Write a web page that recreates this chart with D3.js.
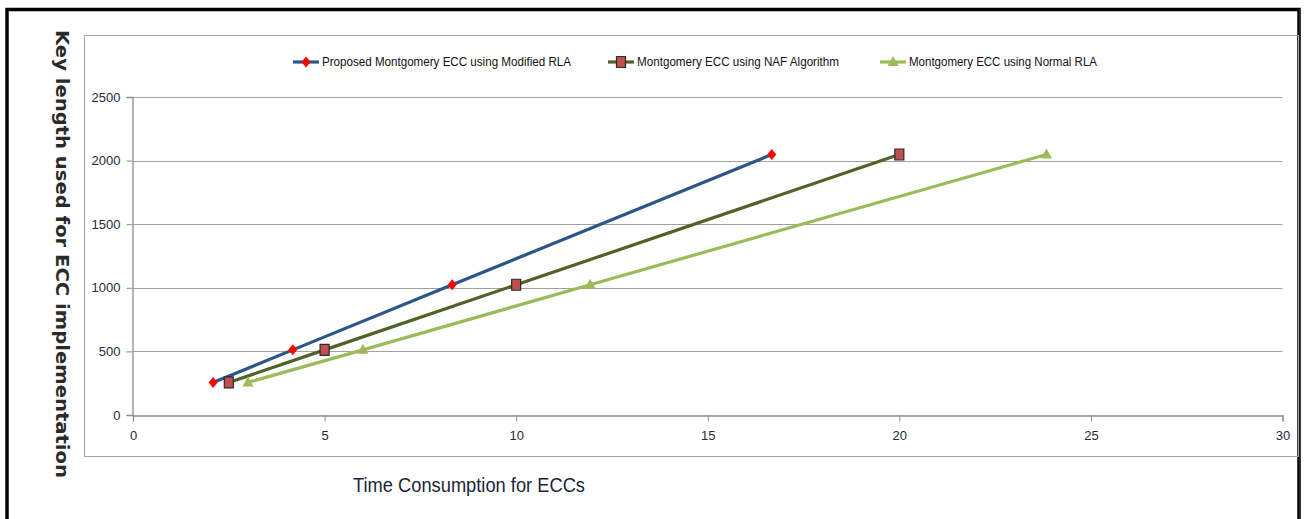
<!DOCTYPE html>
<html lang="en">
<head>
    <meta charset="UTF-8">
    <title>ECC key length vs time</title>
    <script src="https://d3js.org/d3.v7.min.js"></script>
    <style>
        body { margin: 0; background: #fff; }
        .tick text { font-family: "Liberation Sans Narrow", "Liberation Sans", sans-serif; font-size: 13px; fill: #1f2b3a; }
    </style>
</head>
<body>
    <div id="chart"></div>
    <script>

        const keyLengths = [256, 512, 1024, 2048];
        const proposedTimes = [2.09, 4.17, 8.33, 16.67];
        const nafTimes = [2.5, 5, 10, 20];
        const normalTimes = [3, 6, 11.93, 23.84];
        const seriesNames = [
            "Proposed Montgomery ECC using Modified RLA",
            "Montgomery ECC using NAF Algorithm",
            "Montgomery ECC using Normal RLA"
        ];
        const xTicks = [0, 5, 10, 15, 20, 25, 30];
        const yTicks = [0, 500, 1000, 1500, 2000, 2500];

        const width = 1304;
        const height = 519;

        const x = d3.scaleLinear().domain([0, 30]).range([133, 1282.5]);
        const y = d3.scaleLinear().domain([0, 2500]).range([415, 97]);

        const series = [
            { name: seriesNames[0], times: proposedTimes, line: "#2c5689", marker: "diamond" },
            { name: seriesNames[1], times: nafTimes, line: "#4f6228", marker: "square" },
            { name: seriesNames[2], times: normalTimes, line: "#9bbb59", marker: "triangle" }
        ];

        const svg = d3.select("#chart")
            .append("svg")
            .attr("width", width)
            .attr("height", height);

        // outer black frame (bottom runs off the picture)
        svg.append("rect")
            .attr("x", 7).attr("y", 9.5)
            .attr("width", 1292).attr("height", 530)
            .attr("fill", "none")
            .attr("stroke", "#000")
            .attr("stroke-width", 3.5);
        svg.append("line")
            .attr("x1", 1299.5).attr("x2", 1299.5)
            .attr("y1", 9).attr("y2", 519)
            .attr("stroke", "#222").attr("stroke-width", 1.5);

        // inner chart frame
        svg.append("rect")
            .attr("x", 84.5).attr("y", 35.5)
            .attr("width", 1214).attr("height", 421)
            .attr("fill", "none")
            .attr("stroke", "#a6a6a6");

        // gridlines
        svg.append("g")
            .selectAll("line")
            .data(yTicks.slice(1))
            .join("line")
            .attr("x1", x(0)).attr("x2", x(30))
            .attr("y1", d => Math.round(y(d)) + 0.5)
            .attr("y2", d => Math.round(y(d)) + 0.5)
            .attr("stroke", "#a0a0a0")
            .attr("stroke-width", 1.2);

        // axes
        const xAxis = svg.append("g")
            .attr("transform", `translate(0,${y(0) + 0.5})`)
            .call(d3.axisBottom(x).tickValues(xTicks).tickFormat(d3.format("d")).tickSize(6).tickPadding(9));
        const yAxis = svg.append("g")
            .attr("transform", `translate(${x(0) - 0.5},0)`)
            .call(d3.axisLeft(y).tickValues(yTicks).tickFormat(d3.format("d")).tickSize(6).tickPadding(6));
        [xAxis, yAxis].forEach(g => {
            g.select(".domain").attr("stroke", "#8c8c8c").attr("stroke-width", 1.3);
            g.selectAll(".tick line").attr("stroke", "#8c8c8c");
        });

        // marker shapes
        function markerPath(type, cx, cy) {
            if (type === "diamond") {
                return `M${cx},${cy - 5.5}L${cx + 4.5},${cy}L${cx},${cy + 5.5}L${cx - 4.5},${cy}Z`;
            }
            if (type === "square") {
                return `M${cx - 4.5},${cy - 5.5}h9v11h-9Z`;
            }
            return `M${cx},${cy - 6}L${cx + 5.5},${cy + 4}L${cx - 5.5},${cy + 4}Z`;
        }
        function drawMarker(g, type, cx, cy) {
            const p = g.append("path").attr("d", markerPath(type, cx, cy));
            if (type === "diamond") p.attr("fill", "#ff0000");
            if (type === "square") p.attr("fill", "#c0504d").attr("stroke", "#2b2b2b").attr("stroke-width", 1.2);
            if (type === "triangle") p.attr("fill", "#9bbb59");
        }

        const line = d3.line()
            .x(d => x(d[0]))
            .y(d => y(d[1]));

        series.forEach(s => {
            const pts = s.times.map((t, i) => [t, keyLengths[i]]);
            const g = svg.append("g");
            g.append("path")
                .datum(pts)
                .attr("d", line)
                .attr("fill", "none")
                .attr("stroke", s.line)
                .attr("stroke-width", 3.2);
            pts.forEach(p => drawMarker(g, s.marker, x(p[0]), y(p[1])));
        });

        // legend
        const legendX = [293, 608, 880];
        const legendW = [249, 202, 188];
        const legendY = 62;
        series.forEach((s, i) => {
            const g = svg.append("g");
            g.append("line")
                .attr("x1", legendX[i]).attr("x2", legendX[i] + 26)
                .attr("y1", legendY).attr("y2", legendY)
                .attr("stroke", s.line).attr("stroke-width", 3.2);
            drawMarker(g, s.marker, legendX[i] + 13, legendY);
            g.append("text")
                .attr("x", legendX[i] + 29)
                .attr("y", legendY + 4)
                .attr("textLength", legendW[i])
                .attr("lengthAdjust", "spacingAndGlyphs")
                .style("font-family", "'Liberation Sans Narrow', 'Liberation Sans', sans-serif")
                .style("font-size", "12.5px")
                .attr("fill", "#111")
                .text(s.name);
        });

        // axis titles
        svg.append("text")
            .attr("transform", "translate(56,254) rotate(90)")
            .attr("text-anchor", "middle")
            .attr("textLength", 448)
            .attr("lengthAdjust", "spacingAndGlyphs")
            .style("font-family", "'DejaVu Sans', sans-serif")
            .style("font-size", "17px")
            .style("font-weight", "600")
            .attr("fill", "#2a2a2a")
            .text("Key length used for ECC implementation");

        svg.append("text")
            .attr("x", 353)
            .attr("y", 492)
            .attr("textLength", 232)
            .attr("lengthAdjust", "spacingAndGlyphs")
            .style("font-family", "'Liberation Sans Narrow', 'Liberation Sans', sans-serif")
            .style("font-size", "20px")
            .attr("fill", "#1b1f3b")
            .text("Time Consumption for ECCs");

    </script>
</body>
</html>
